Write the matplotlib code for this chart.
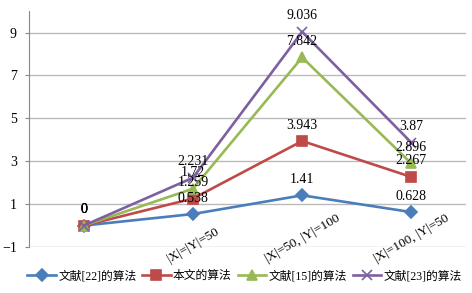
import matplotlib.pyplot as plt
from matplotlib.transforms import blended_transform_factory

plt.rcParams['font.family'] = ['Liberation Serif', 'Noto Sans CJK SC', 'DejaVu Sans']

categories = ['', '|X|=|Y|=50', '|X|=50, |Y|=100', '|X|=100, |Y|=50']
series_names = ['文献[22]的算法', '本文的算法', '文献[15]的算法', '文献[23]的算法']
ref22 = [0, 0.538, 1.41, 0.628]
ours = [0, 1.259, 3.943, 2.267]
ref15 = [0, 1.72, 7.842, 2.896]
ref23 = [0, 2.231, 9.036, 3.87]

colors = ['#4A7EBB', '#BE4B48', '#98B954', '#7D60A0']
markers = ['D', 's', '^', 'x']
sizes = [6, 7, 7, 7]


def main():
    fig = plt.figure(figsize=(4.72, 2.93), dpi=100)
    ax = fig.add_axes([0.062, 0.157, 0.925, 0.805])
    x = list(range(len(categories)))
    for vals, name, c, m, s in zip([ref22, ours, ref15, ref23], series_names, colors, markers, sizes):
        ax.plot(x, vals, color=c, lw=1.9, marker=m, ms=s, mew=1.2, label=name)
        for xi, v in zip(x, vals):
            ax.annotate(f'{v:g}', (xi, v), xytext=(0, 11.5), textcoords='offset points',
                        ha='center', va='center', fontsize=10)

    ax.set_xlim(-0.5, 3.5)
    ax.set_ylim(-1, 10)
    ax.set_yticks([-1, 1, 3, 5, 7, 9])
    ax.set_xticks(x)
    ax.set_xticklabels([])
    # rotated category labels sit across the bottom gridline, like the original
    trans = blended_transform_factory(ax.transData, ax.transAxes)
    for xi, lab in zip(x, categories):
        ax.text(xi, -0.076, lab, transform=trans, rotation=30, ha='center', va='bottom',
                fontsize=9.5)
    ax.tick_params(axis='x', length=0)
    ax.tick_params(axis='y', length=3, color='#888888', labelsize=10, pad=6)
    ax.grid(axis='y', color='#BBBBBB', lw=1)
    ax.set_axisbelow(True)
    for sp in ['top', 'right', 'bottom']:
        ax.spines[sp].set_visible(False)
    ax.spines['left'].set_color('#888888')

    fig.legend(loc='center', bbox_to_anchor=(0.518, 0.058), ncol=4, frameon=False,
               fontsize=8.5, handlelength=2.4, columnspacing=0.5, handletextpad=0.2,
               borderpad=0, borderaxespad=0)
    fig.savefig('out.png', dpi=100)


if __name__ == '__main__':
    main()
